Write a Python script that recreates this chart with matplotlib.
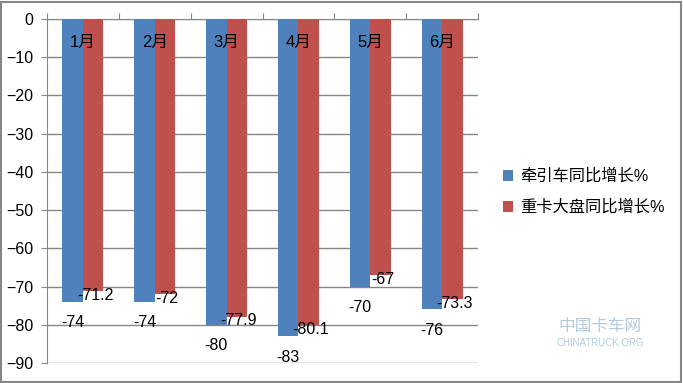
import matplotlib
matplotlib.use("Agg")
import matplotlib.pyplot as plt
import numpy as np

plt.rcParams['font.family'] = ['Liberation Sans', 'Noto Sans CJK SC', 'DejaVu Sans']

months = ["1月", "2月", "3月", "4月", "5月", "6月"]
tractor = [-74, -74, -80, -83, -70, -76]
heavy = [-71.2, -72, -77.9, -80.1, -67, -73.3]
series_names = ["牵引车同比增长%", "重卡大盘同比增长%"]
blue = "#4F81BD"
red = "#C0504D"
grid_c = "#868686"

W, H = 683, 383
fig = plt.figure(figsize=(W / 100, H / 100), dpi=100)
ax = fig.add_axes([47 / W, 1 - 363 / H, (478 - 47) / W, (363 - 19) / H])

x = np.arange(len(months))
bw = 0.285
b1 = ax.bar(x - bw / 2, tractor, bw, color=blue, zorder=3, label=series_names[0])
b2 = ax.bar(x + bw / 2, heavy, bw, color=red, zorder=3, label=series_names[1])

ax.set_ylim(-90, 0)
ax.set_xlim(-0.5, len(months) - 0.5)
ax.set_yticks(np.arange(-90, 1, 10))
ax.yaxis.grid(True, color=grid_c, linewidth=1, zorder=0)
ax.set_axisbelow(True)
for s in ["right", "bottom"]:
    ax.spines[s].set_visible(False)
ax.spines["left"].set_color(grid_c)
ax.spines["top"].set_color(grid_c)
ax.tick_params(axis="y", length=4, color=grid_c, labelsize=11.5, pad=6)
ax.xaxis.tick_top()
ax.set_xticks(np.arange(-0.5, len(months), 1))
ax.set_xticklabels([])
ax.tick_params(axis="x", length=4, color=grid_c, direction="out")

for i, m in enumerate(months):
    ax.annotate(m, (i, 0), xytext=(0, -17), textcoords="offset points",
                ha="center", va="center", fontsize=12, zorder=5)

for rect, v in zip(b1, tractor):
    ax.annotate(f"{v:g}", (rect.get_x() + rect.get_width() / 2, v), xytext=(0, -15),
                textcoords="offset points", ha="center", va="center", fontsize=11.5, zorder=5)
for rect, v in zip(b2, heavy):
    ax.annotate(f"{v:g}", (rect.get_x() + rect.get_width() / 2 + 0.03, v), xytext=(0, -3),
                textcoords="offset points", ha="center", va="center", fontsize=11.5, zorder=5)

leg = fig.legend(handles=[b1, b2], loc="upper left", bbox_to_anchor=(488 / W, 1 - 154 / H),
                 frameon=False, fontsize=11.7, handlelength=0.65, handleheight=0.65,
                 handletextpad=0.4, labelspacing=0.95)

# watermark
fig.text(600 / W, 1 - 326 / H, "中国卡车网", fontsize=12, color="#7FA9C9", alpha=0.6,
         ha="center", va="center")
fig.text(600 / W, 1 - 343 / H, "CHINATRUCK.ORG", fontsize=7, color="#7FA9C9", alpha=0.6,
         ha="center", va="center")

border = plt.Rectangle((1 / W, 1 / H), (W - 3) / W, (H - 3) / H, transform=fig.transFigure,
                       fill=False, edgecolor=grid_c, linewidth=1.5)
fig.patches.append(border)

fig.savefig("out.png", dpi=100)
